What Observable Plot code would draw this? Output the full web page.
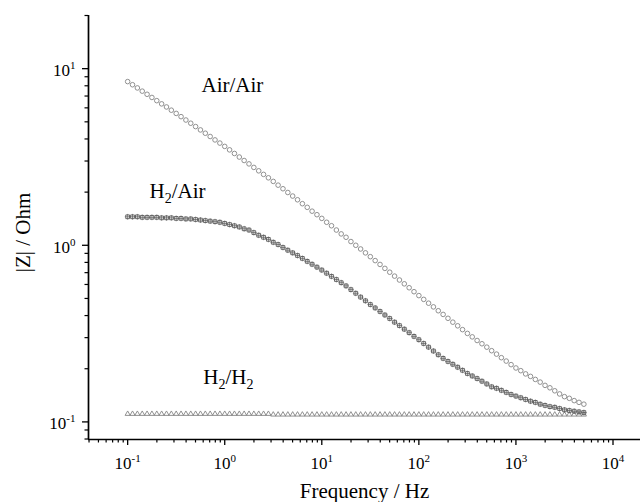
<!DOCTYPE html>
<html>
<head>
<meta charset="utf-8">
<script src="https://cdn.jsdelivr.net/npm/d3@7"></script>
<script src="https://cdn.jsdelivr.net/npm/@observablehq/plot@0.6"></script>
<style>
  html, body { margin: 0; padding: 0; background: white; }
</style>
</head>
<body>
<div id="chart"></div>
<script>
// Frequencies (Hz)
const freq = [
  0.1, 0.1122, 0.1259, 0.1413, 0.1585, 0.1778, 0.1995, 0.2239, 0.2512, 0.2818,
  0.3162, 0.3548, 0.3981, 0.4467, 0.5012, 0.5623, 0.631, 0.7079, 0.7943, 0.8913,
  1, 1.122, 1.259, 1.413, 1.585, 1.778, 1.995, 2.239, 2.512, 2.818,
  3.162, 3.548, 3.981, 4.467, 5.012, 5.623, 6.31, 7.079, 7.943, 8.913,
  10, 11.22, 12.59, 14.13, 15.85, 17.78, 19.95, 22.39, 25.12, 28.18,
  31.62, 35.48, 39.81, 44.67, 50.12, 56.23, 63.1, 70.79, 79.43, 89.13,
  100, 112.2, 125.9, 141.3, 158.5, 177.8, 199.5, 223.9, 251.2, 281.8,
  316.2, 354.8, 398.1, 446.7, 501.2, 562.3, 631, 707.9, 794.3, 891.3,
  1000, 1122, 1259, 1413, 1585, 1778, 1995, 2239, 2512, 2818,
  3162, 3548, 3981, 4467, 5012
];
// |Z| (Ohm) — Air/Air
const zAirAir = [
  8.45, 8.11, 7.78, 7.46, 7.16, 6.87, 6.59, 6.32, 6.07, 5.82,
  5.58, 5.35, 5.12, 4.91, 4.70, 4.50, 4.31, 4.13, 3.95, 3.79,
  3.63, 3.47, 3.31, 3.16, 3.02, 2.89, 2.76, 2.64, 2.52, 2.41,
  2.30, 2.19, 2.09, 1.99, 1.90, 1.81, 1.72, 1.64, 1.56, 1.49,
  1.42, 1.35, 1.29, 1.22, 1.16, 1.11, 1.05, 1.00, 0.953, 0.906,
  0.862, 0.819, 0.779, 0.740, 0.704, 0.669, 0.636, 0.605, 0.575, 0.546,
  0.519, 0.494, 0.470, 0.448, 0.426, 0.406, 0.386, 0.367, 0.350, 0.333,
  0.317, 0.303, 0.289, 0.277, 0.265, 0.253, 0.242, 0.231, 0.221, 0.211,
  0.202, 0.195, 0.187, 0.181, 0.174, 0.168, 0.161, 0.156, 0.150, 0.144,
  0.139, 0.136, 0.132, 0.129, 0.126
];
// |Z| (Ohm) — H2/Air
const zH2Air = [
  1.45, 1.45, 1.45, 1.44, 1.44, 1.44, 1.44, 1.43, 1.43, 1.43,
  1.42, 1.42, 1.41, 1.41, 1.40, 1.39, 1.38, 1.37, 1.36, 1.35,
  1.33, 1.31, 1.29, 1.27, 1.24, 1.22, 1.18, 1.14, 1.11, 1.08,
  1.04, 1.01, 0.972, 0.938, 0.906, 0.875, 0.843, 0.811, 0.781, 0.752,
  0.724, 0.695, 0.667, 0.640, 0.614, 0.589, 0.561, 0.535, 0.509, 0.485,
  0.462, 0.442, 0.422, 0.403, 0.385, 0.367, 0.351, 0.335, 0.320, 0.305,
  0.292, 0.278, 0.265, 0.252, 0.240, 0.229, 0.220, 0.212, 0.204, 0.196,
  0.188, 0.182, 0.176, 0.170, 0.164, 0.158, 0.155, 0.151, 0.147, 0.143,
  0.140, 0.137, 0.134, 0.131, 0.129, 0.126, 0.124, 0.122, 0.121, 0.119,
  0.117, 0.116, 0.115, 0.114, 0.113
];
// |Z| (Ohm) — H2/H2
const zH2H2 = [
  0.111, 0.111, 0.111, 0.111, 0.111, 0.111, 0.111, 0.111, 0.111, 0.111,
  0.111, 0.111, 0.111, 0.111, 0.111, 0.111, 0.111, 0.111, 0.111, 0.111,
  0.111, 0.111, 0.111, 0.111, 0.111, 0.111, 0.111, 0.111, 0.111, 0.111,
  0.110, 0.110, 0.110, 0.110, 0.110, 0.110, 0.110, 0.110, 0.110, 0.110,
  0.110, 0.110, 0.110, 0.110, 0.110, 0.110, 0.110, 0.110, 0.110, 0.110,
  0.110, 0.110, 0.110, 0.110, 0.110, 0.110, 0.110, 0.110, 0.110, 0.110,
  0.110, 0.110, 0.110, 0.110, 0.110, 0.110, 0.110, 0.110, 0.110, 0.110,
  0.110, 0.110, 0.110, 0.110, 0.110, 0.110, 0.110, 0.110, 0.110, 0.110,
  0.110, 0.110, 0.110, 0.110, 0.110, 0.110, 0.110, 0.110, 0.110, 0.110,
  0.110, 0.110, 0.110, 0.110, 0.110
];

// Axis ticks and labels
const xMajor = [0.1, 1, 10, 100, 1000, 10000];
const xExp = ["-1", "0", "1", "2", "3", "4"];
const xMinor = [0.04, 0.05, 0.06, 0.07, 0.08, 0.09,
  0.2, 0.3, 0.4, 0.5, 0.6, 0.7, 0.8, 0.9,
  2, 3, 4, 5, 6, 7, 8, 9,
  20, 30, 40, 50, 60, 70, 80, 90,
  200, 300, 400, 500, 600, 700, 800, 900,
  2000, 3000, 4000, 5000, 6000, 7000, 8000, 9000];
const yMajor = [0.1, 1, 10];
const yExp = ["-1", "0", "1"];
const yMinor = [0.08, 0.09, 0.2, 0.3, 0.4, 0.5, 0.6, 0.7, 0.8, 0.9,
  2, 3, 4, 5, 6, 7, 8, 9, 20];

// Series labels (annotation text) and their anchor points in data space
const seriesNames = ["Air/Air", "H_2/Air", "H_2/H_2"];
const labelAnchors = [
  {f: 1.2, z: 8.08},
  {f: 0.326, z: 2.03},
  {f: 1.09, z: 0.180}
];

const serif = '"Liberation Serif", "Times New Roman", serif';
const xDomain = [0.0395, 19200];
const yDomain = [0.0795, 20];
const rows = arr => freq.map((f, i) => ({f, z: arr[i]}));
const labelRows = seriesNames.map((name, i) => ({name, ...labelAnchors[i]}));

const plot = Plot.plot({
  width: 640,
  height: 502,
  marginLeft: 88,
  marginRight: 0,
  marginTop: 15,
  marginBottom: 63,
  style: {background: "white", fontFamily: serif, color: "black"},
  x: {type: "log", domain: xDomain},
  y: {type: "log", domain: yDomain},
  marks: [
    Plot.axisX(xMajor, {anchor: "bottom", tickSize: 6, tickFormat: () => "", label: null, strokeWidth: 1.3}),
    Plot.axisX(xMinor, {anchor: "bottom", tickSize: 3.5, tickFormat: () => "", label: null, strokeWidth: 1.2}),
    Plot.axisY(yMajor, {anchor: "left", tickSize: 6, tickFormat: () => "", label: null, strokeWidth: 1.3}),
    Plot.axisY(yMinor, {anchor: "left", tickSize: 3.5, tickFormat: () => "", label: null, strokeWidth: 1.2}),
    Plot.ruleY([yDomain[0]], {stroke: "black", strokeWidth: 1.7}),
    Plot.ruleX([xDomain[0]], {stroke: "black", strokeWidth: 1.7}),
    Plot.dot(rows(zH2H2), {x: "f", y: "z", symbol: "triangle", r: 1.9, stroke: "#858585", fill: "none", strokeWidth: 0.9}),
    Plot.dot(rows(zAirAir), {x: "f", y: "z", symbol: "circle", r: 2.3, stroke: "#858585", fill: "none", strokeWidth: 0.9}),
    Plot.dot(rows(zH2Air), {x: "f", y: "z", symbol: "square", r: 2.1, stroke: "#5a5a5a", fill: "none", strokeWidth: 0.9}),
    Plot.dot(rows(zH2Air), {x: "f", y: "z", symbol: "plus", r: 2.0, stroke: "#5a5a5a", strokeWidth: 0.7}),
    Plot.text(xMajor, {x: d => d, y: () => yDomain[0], text: (d, i) => xExp[i], dy: 24, fontSize: 17, fontFamily: serif,
      textAnchor: "middle", lineAnchor: "middle", className: "xtl"}),
    Plot.text(yMajor, {x: () => xDomain[0], y: d => d, text: (d, i) => yExp[i], dx: -13, dy: 2, fontSize: 17, fontFamily: serif,
      textAnchor: "end", lineAnchor: "middle", className: "ytl"}),
    Plot.text(labelRows, {x: "f", y: "z", text: "name", fontSize: 21, fontFamily: serif,
      textAnchor: "middle", lineAnchor: "middle", className: "serieslabel"}),
    Plot.text(["Frequency / Hz"], {frameAnchor: "bottom", dy: 52, fontSize: 21, fontFamily: serif,
      textAnchor: "middle", lineAnchor: "middle"}),
    Plot.text(["|Z| / Ohm"], {frameAnchor: "left", dx: -65, dy: 5, rotate: -90, fontSize: 21, fontFamily: serif,
      textAnchor: "middle", lineAnchor: "middle"})
  ]
});

document.getElementById("chart").append(plot);

const allTexts = Array.from(plot.querySelectorAll("text"));
const inClass = cls => allTexts.filter(t => t.closest("." + cls));

// Superscript exponents for tick labels
inClass("xtl").concat(inClass("ytl")).forEach(el => {
  const e = el.textContent;
  const s = d3.select(el);
  s.text(null);
  s.append("tspan").text("10");
  s.append("tspan").attr("dy", "-7").attr("font-size", "11px").text(e);
});

// Subscripts in series labels ("_2" -> subscript 2)
inClass("serieslabel").forEach(el => {
  const t = el.textContent;
  const s = d3.select(el);
  s.text(null);
  const parts = t.split(/(_.)/).filter(p => p);
  let shifted = false;
  parts.forEach(p => {
    if (p.startsWith("_")) {
      s.append("tspan").attr("dy", "5").attr("font-size", "14px").text(p.slice(1));
      shifted = true;
    } else {
      const ts = s.append("tspan").text(p);
      if (shifted) { ts.attr("dy", "-5"); shifted = false; }
    }
  });
});
</script>
</body>
</html>
